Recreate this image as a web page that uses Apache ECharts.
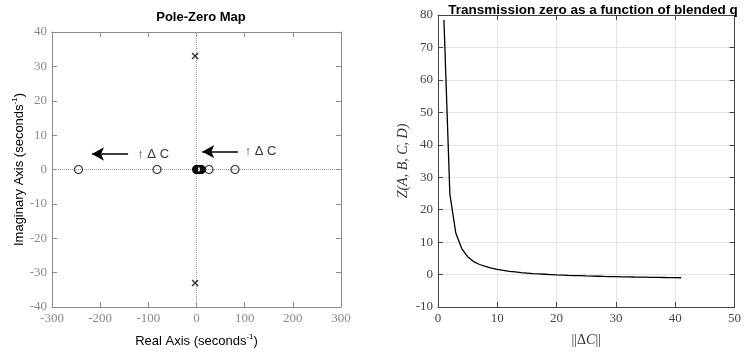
<!DOCTYPE html>
<html>
<head>
<meta charset="utf-8">
<script src="https://cdn.jsdelivr.net/npm/echarts@6/dist/echarts.min.js"></script>
<style>
  html, body { margin: 0; padding: 0; background: #fff; }
  #main { width: 744px; height: 354px; }
</style>
</head>
<body>
<div id="main"></div>
<script>
// pole-zero map: zeros (o) and poles (x), [real, imag]
const zeros = [[-245, 0], [-82, 0], [0, 0], [1, 0], [2, 0], [3, 0], [4, 0], [5, 0], [6, 0], [7, 0], [8, 0], [9, 0], [10, 0], [26, 0], [80, 0]];
const poles = [[-3, 33], [-3, -33]];
// arrows drawn on the pole-zero map: [fromReal, fromImag, toReal, toImag]
const arrows = [[-142, 4.5, -217, 4.5], [86, 5.2, 12, 5.2]];
const arrowLabels = [[-123, 4.5], [100, 5.2]];
const arrowText = "\u2191 \u0394 C";

// right panel: ||dC|| vs transmission zero
const dC = [1, 2, 3, 4, 5, 6, 7, 8, 9, 10, 11, 12, 13, 14, 15, 16, 17, 18, 19, 20,
  21, 22, 23, 24, 25, 26, 27, 28, 29, 30, 31, 32, 33, 34, 35, 36, 37, 38, 39, 40, 41];
const zVal = [78.5, 24.8, 12.8, 8.0, 5.5, 4.0, 3.1, 2.5, 2.0, 1.6, 1.3, 1.0, 0.8, 0.6, 0.45, 0.3, 0.2, 0.1, 0.0, -0.1,
  -0.17, -0.24, -0.3, -0.36, -0.42, -0.47, -0.52, -0.57, -0.61, -0.65, -0.69, -0.72, -0.76, -0.79, -0.82, -0.85, -0.88, -0.9, -0.93, -0.95, -0.98];

const serif = "'Liberation Serif', 'DejaVu Serif', serif";
const sans = "'Liberation Sans', Arial, sans-serif";

const chart = echarts.init(document.getElementById("main"));

function boxAxis(grid, pos, min, max, interval, color, showLabel, split) {
  return {
    type: "value",
    gridIndex: grid,
    position: pos,
    min: min,
    max: max,
    interval: interval,
    axisLine: { show: true, onZero: false, lineStyle: { color: color, width: 1 } },
    axisTick: { show: true, inside: true, length: 5, lineStyle: { color: color } },
    axisLabel: {
      show: showLabel,
      color: color,
      fontFamily: serif,
      fontSize: 13,
      margin: 5
    },
    splitLine: { show: split, lineStyle: { color: "#e3e3e3", width: 1 } }
  };
}

const leftGray = "#8a8a8a";
const rightGray = "#444";

const xAxes = [
  boxAxis(0, "bottom", -300, 300, 100, leftGray, true, false),
  boxAxis(0, "top", -300, 300, 100, leftGray, false, false),
  boxAxis(1, "bottom", 0, 50, 10, rightGray, true, true),
  boxAxis(1, "top", 0, 50, 10, rightGray, false, false)
];
const yAxes = [
  boxAxis(0, "left", -40, 40, 10, leftGray, true, false),
  boxAxis(0, "right", -40, 40, 10, leftGray, false, false),
  boxAxis(1, "left", -10, 80, 10, rightGray, true, true),
  boxAxis(1, "right", -10, 80, 10, rightGray, false, false)
];

const supRich = { sup: { fontSize: 8, verticalAlign: "top", padding: [0, 0, 8, 0], fontFamily: sans, color: "#000" } };

// axis names
Object.assign(xAxes[0], {
  name: "Real Axis (seconds{sup|-1})",
  nameLocation: "middle",
  nameGap: 26,
  nameTextStyle: { color: "#000", fontFamily: sans, fontSize: 13, rich: supRich }
});
Object.assign(yAxes[0], {
  name: "Imaginary Axis (seconds{sup|-1})",
  nameLocation: "middle",
  nameGap: 25,
  nameTextStyle: { color: "#000", fontFamily: sans, fontSize: 13, rich: supRich }
});
Object.assign(xAxes[2], {
  name: "||\u0394{it|C}||",
  nameLocation: "middle",
  nameGap: 26,
  nameTextStyle: { color: "#333", fontFamily: serif, fontSize: 14, rich: { it: { fontStyle: "italic", fontFamily: serif, fontSize: 14, color: "#333" } } }
});
Object.assign(yAxes[2], {
  name: "Z(A, B, C, D)",
  nameLocation: "middle",
  nameGap: 28,
  nameTextStyle: { color: "#333", fontFamily: serif, fontSize: 14, fontStyle: "italic" }
});

const option = {
  animation: false,
  backgroundColor: "#fff",
  title: [
    { text: "Pole-Zero Map", left: 196, top: 6, textAlign: "center",
      textStyle: { fontFamily: sans, fontSize: 13, fontWeight: "bold", color: "#000" } },
    { text: "Transmission zero as a function of blended q", left: 588, top: -2, textAlign: "center",
      textStyle: { fontFamily: sans, fontSize: 13.5, fontWeight: "bold", color: "#000" } }
  ],
  grid: [
    { left: 52, right: 403, top: 32, bottom: 47 },
    { left: 438, right: 8, top: 15, bottom: 47 }
  ],
  xAxis: xAxes,
  yAxis: yAxes,
  series: [
    {
      name: "zeros",
      type: "scatter",
      xAxisIndex: 0,
      yAxisIndex: 0,
      data: zeros,
      symbol: "circle",
      symbolSize: 8,
      itemStyle: { color: "rgba(0,0,0,0)", borderColor: "#000", borderWidth: 1.2 },
      z: 5,
      markLine: {
        silent: true,
        symbol: "none",
        label: { show: false },
        lineStyle: { color: "#999", type: "dotted", width: 1 },
        data: [{ xAxis: 0 }, { yAxis: 0 }],
        z: 1
      }
    },
    {
      name: "poles",
      type: "scatter",
      xAxisIndex: 0,
      yAxisIndex: 0,
      data: poles,
      symbol: "path://M0,0L10,10M10,0L0,10",
      symbolSize: 6,
      itemStyle: { color: "none", borderColor: "#000", borderWidth: 1.4 },
      z: 6
    },
    {
      name: "arrows",
      type: "line",
      xAxisIndex: 0,
      yAxisIndex: 0,
      data: [],
      markLine: {
        silent: true,
        symbol: ["none", "arrow"],
        symbolSize: [10, 12],
        label: { show: false },
        lineStyle: { color: "#000", type: "solid", width: 1.5 },
        data: arrows.map(a => [{ coord: [a[0], a[1]] }, { coord: [a[2], a[3]] }])
      }
    },
    {
      name: "arrowText",
      type: "scatter",
      xAxisIndex: 0,
      yAxisIndex: 0,
      data: arrowLabels,
      symbolSize: 0,
      label: {
        show: true,
        position: "right",
        distance: 0,
        formatter: arrowText,
        fontFamily: sans,
        fontSize: 13,
        color: "#000"
      }
    },
    {
      name: "Z",
      type: "line",
      xAxisIndex: 2,
      yAxisIndex: 2,
      data: dC.map((x, i) => [x, zVal[i]]),
      showSymbol: false,
      symbol: "none",
      lineStyle: { color: "#000", width: 1.3 }
    }
  ]
};

chart.setOption(option);
</script>
</body>
</html>
